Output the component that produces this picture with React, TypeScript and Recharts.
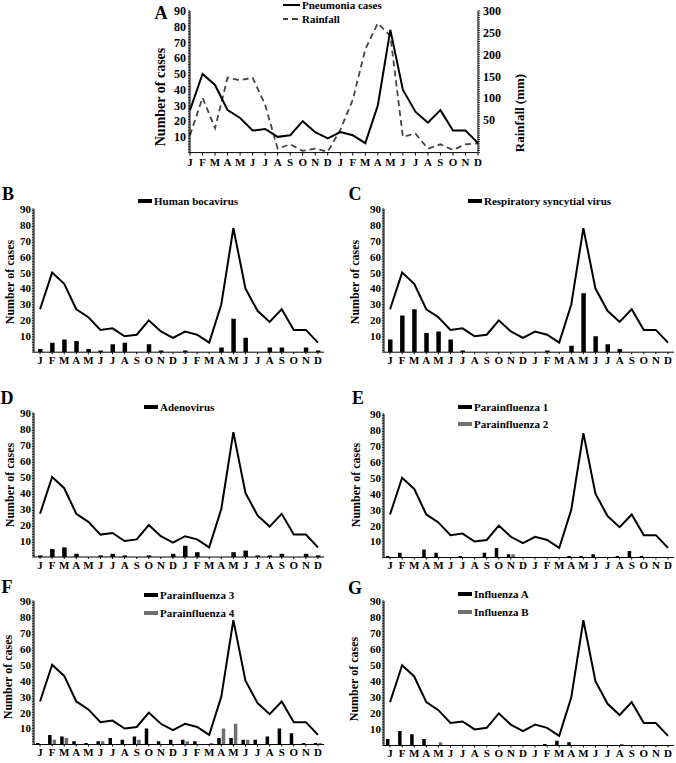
import React from 'react';
import { ComposedChart, Line, Bar, XAxis, YAxis } from 'recharts';

const months = ['J','F','M','A','M','J','J','A','S','O','N','D','J','F','M','A','M','J','J','A','S','O','N','D'];
const pneumoniaCases = [27,50,43,27,22,14,15,10,11,20,13,9,13,11,6,30,78,40,26,19,27,14,14,6];
const rainfall = [15,101,31,147,141,147,85,-16,-6,-21,-16,-23,27,96,212,272,243,11,19,-16,-6,-19,-6,-4];
const humanBocavirus = [2,6,8,7,2,1,5,6,0,5,1,0,1,0,0,3,21,9,0,3,3,0,3,1];
const respiratorySyncytial = [8,23,27,12,13,8,1,0,0,0,0,0,0,1,0,4,37,10,5,2,0,0,0,0];
const adenovirus = [1,5,6,2,0,1,2,1,0,1,0,2,7,3,0,0,3,4,1,1,2,0,2,1];
const parainfluenza1 = [1,3,0,5,3,0,1,0,3,6,2,0,0,0,0,1,1,2,0,1,4,1,0,0];
const parainfluenza2 = [0,0,0,0,0,0,0,0,0,0,2,0,0,0,0,0,0,0,0,0,0,0,0,0];
const parainfluenza3 = [1,6,5,2,1,2,4,3,5,10,2,3,3,2,0,4,4,3,3,5,10,7,1,1];
const parainfluenza4 = [0,3,4,0,0,2,0,0,3,0,0,0,2,0,1,10,13,3,0,0,0,0,0,1];
const influenzaA = [4,9,7,4,0,0,0,0,0,0,0,0,0,1,3,2,0,0,0,0,0,0,0,0];
const influenzaB = [0,0,0,0,2,0,0,0,0,0,0,0,0,0,0,0,0,0,0,1,0,0,0,0];

const caseTickLabels = [10,20,30,40,50,60,70,80,90];
const rainTickLabels = [50,100,150,200,250,300];
const caseDomain: [number, number] = [0, 90];
const rainDomain: [number, number] = [-25, 300];

const caseTicks = Array.from({ length: 91 }, (_, i) => i);
const rainTicks = Array.from({ length: 66 }, (_, i) => -25 + i * 5);

const FONT = "'Liberation Serif', 'DejaVu Serif', serif";
const BLACK = '#000000';
const GRAY = '#6f6f6f';

const tickStyle = (size: number) => ({ fontFamily: FONT, fontWeight: 'bold', fontSize: size, fill: '#000' });

type BarSpec = { key: string; values: number[]; color: string; name: string };

function buildData(bars: BarSpec[]) {
  return months.map((m, i) => {
    const row: any = { month: m, pneumonia: pneumoniaCases[i] };
    bars.forEach((b) => { row[b.key] = b.values[i]; });
    return row;
  });
}

function Panel({ left, right, top, bottom, bars }: { left: number; right: number; top: number; bottom: number; bars: BarSpec[] }) {
  const yW = 40, xH = 22, mt = 8, mr = 4;
  const width = right - left + yW + mr;
  const height = bottom - top + mt + xH;
  const data = buildData(bars);
  const barSize = bars.length > 1 ? 3.5 : 4.5;
  return (
    <div style={{ position: 'absolute', left: left - yW, top: top - mt }}>
      <ComposedChart width={width} height={height} data={data} margin={{ top: mt, right: mr, bottom: 0, left: 0 }} barGap={1}>
        <XAxis dataKey="month" interval={0} tick={tickStyle(11)} tickSize={2} tickMargin={2} height={xH}
          axisLine={{ stroke: '#000', strokeWidth: 1 }} tickLine={{ stroke: '#000' }} />
        <YAxis domain={caseDomain} ticks={caseTicks} interval={0} width={yW} tick={tickStyle(11)} tickSize={2} tickMargin={1}
          tickFormatter={(v: number) => (caseTickLabels.includes(v) ? String(v) : '')}
          axisLine={{ stroke: '#000', strokeWidth: 1 }} tickLine={{ stroke: '#000', strokeWidth: 0.8 }} allowDataOverflow />
        {bars.map((b) => (
          <Bar key={b.key} dataKey={b.key} name={b.name} fill={b.color} barSize={barSize} isAnimationActive={false} />
        ))}
        <Line dataKey="pneumonia" type="linear" stroke="#000" strokeWidth={2} dot={false} isAnimationActive={false} />
      </ComposedChart>
    </div>
  );
}

function Txt({ x, y, size, children, rotate, anchor }: { x: number; y: number; size: number; children: React.ReactNode; rotate?: boolean; anchor?: 'left' | 'center' }) {
  const t = anchor === 'left' ? 'translate(0,-50%)' : rotate ? 'translate(-50%,-50%) rotate(-90deg)' : 'translate(-50%,-50%)';
  return (
    <div style={{ position: 'absolute', left: x, top: y, transform: t, fontFamily: FONT, fontWeight: 'bold', fontSize: size, lineHeight: 1, whiteSpace: 'nowrap', color: '#000' }}>
      {children}
    </div>
  );
}

function Legend({ x, y, items }: { x: number; y: number; items: { label: string; color: string }[] }) {
  return (
    <>
      {items.map((it, i) => (
        <React.Fragment key={it.label}>
          <div style={{ position: 'absolute', left: x, top: y + i * 17.5 - 2, width: 14, height: 4, background: it.color }} />
          <Txt x={x + 16} y={y + i * 17.5} size={11} anchor="left">{it.label}</Txt>
        </React.Fragment>
      ))}
    </>
  );
}

function PanelA() {
  const data = months.map((m, i) => ({ month: m, pneumonia: pneumoniaCases[i], rainfall: rainfall[i] }));
  const yW = 40, mt = 6, xH = 22;
  const left = 190, right = 478, top = 11, bottom = 152.6;
  return (
    <div style={{ position: 'absolute', left: left - yW, top: top - mt }}>
      <ComposedChart width={right - left + 2 * yW} height={bottom - top + mt + xH} data={data} margin={{ top: mt, right: 0, bottom: 0, left: 0 }}>
        <XAxis dataKey="month" interval={0} tick={tickStyle(11)} tickSize={3} tickMargin={3} height={xH}
          axisLine={{ stroke: '#000' }} tickLine={{ stroke: '#000' }} />
        <YAxis yAxisId="left" domain={caseDomain} ticks={caseTicks} interval={0} width={yW} tick={tickStyle(12)} tickSize={2} tickMargin={2}
          tickFormatter={(v: number) => (caseTickLabels.includes(v) ? String(v) : '')}
          axisLine={{ stroke: '#000' }} tickLine={{ stroke: '#000', strokeWidth: 0.8 }} />
        <YAxis yAxisId="right" orientation="right" domain={rainDomain} ticks={rainTicks} interval={0} width={yW} tick={tickStyle(12)} tickSize={2} tickMargin={3}
          tickFormatter={(v: number) => (rainTickLabels.includes(v) ? String(v) : '')}
          axisLine={{ stroke: '#000' }} tickLine={{ stroke: '#000', strokeWidth: 0.8 }} allowDataOverflow />
        <Line yAxisId="right" dataKey="rainfall" name="Rainfall" type="linear" stroke="#444" strokeWidth={1.8} strokeDasharray="6 4" dot={false} isAnimationActive={false} />
        <Line yAxisId="left" dataKey="pneumonia" name="Pneumonia cases" type="linear" stroke="#000" strokeWidth={2} dot={false} isAnimationActive={false} />
      </ComposedChart>
    </div>
  );
}

export default function App() {
  return (
    <div style={{ position: 'absolute', left: 0, top: 0, width: 676, height: 763, background: '#fff', overflow: 'hidden' }}>
      <PanelA />
      <Panel left={34} right={324} top={209.3} bottom={352.5} bars={[{ key: 'hbov', values: humanBocavirus, color: BLACK, name: 'Human bocavirus' }]} />
      <Panel left={384} right={674} top={209.3} bottom={352.5} bars={[{ key: 'rsv', values: respiratorySyncytial, color: BLACK, name: 'Respiratory syncytial virus' }]} />
      <Panel left={34} right={324} top={412.7} bottom={556.7} bars={[{ key: 'adv', values: adenovirus, color: BLACK, name: 'Adenovirus' }]} />
      <Panel left={384} right={674} top={413.5} bottom={557} bars={[
        { key: 'p1', values: parainfluenza1, color: BLACK, name: 'Parainfluenza 1' },
        { key: 'p2', values: parainfluenza2, color: GRAY, name: 'Parainfluenza 2' }]} />
      <Panel left={34} right={324} top={601} bottom={744.5} bars={[
        { key: 'p3', values: parainfluenza3, color: BLACK, name: 'Parainfluenza 3' },
        { key: 'p4', values: parainfluenza4, color: GRAY, name: 'Parainfluenza 4' }]} />
      <Panel left={384} right={674} top={600.5} bottom={745} bars={[
        { key: 'fa', values: influenzaA, color: BLACK, name: 'Influenza A' },
        { key: 'fb', values: influenzaB, color: GRAY, name: 'Influenza B' }]} />

      {/* Panel A texts */}
      <Txt x={161} y={13} size={18}>A</Txt>
      <Txt x={161} y={97} size={14} rotate>Number of cases</Txt>
      <Txt x={519} y={113} size={13} rotate>Rainfall (mm)</Txt>
      <div style={{ position: 'absolute', left: 283, top: 4, width: 17, height: 2, background: '#000' }} />
      <Txt x={302} y={5} size={11} anchor="left">Pneumonia cases</Txt>
      <div style={{ position: 'absolute', left: 283, top: 18, width: 5, height: 2, background: '#444' }} />
      <div style={{ position: 'absolute', left: 292, top: 18, width: 6, height: 2, background: '#444' }} />
      <Txt x={302} y={19} size={11} anchor="left">Rainfall</Txt>

      {/* Panel letters */}
      <Txt x={8} y={194} size={18}>B</Txt>
      <Txt x={355} y={194} size={18}>C</Txt>
      <Txt x={7} y={398} size={18}>D</Txt>
      <Txt x={358} y={398} size={18}>E</Txt>
      <Txt x={7} y={587} size={18}>F</Txt>
      <Txt x={355} y={588} size={18}>G</Txt>

      {/* Axis titles */}
      <Txt x={10} y={282} size={12} rotate>Number of cases</Txt>
      <Txt x={355} y={282} size={12} rotate>Number of cases</Txt>
      <Txt x={10} y={485} size={12} rotate>Number of cases</Txt>
      <Txt x={356} y={485} size={12} rotate>Number of cases</Txt>
      <Txt x={8} y={677} size={12} rotate>Number of cases</Txt>
      <Txt x={354} y={679} size={12} rotate>Number of cases</Txt>

      {/* Legends */}
      <Legend x={138} y={201} items={[{ label: 'Human bocavirus', color: BLACK }]} />
      <Legend x={468} y={201} items={[{ label: 'Respiratory syncytial virus', color: BLACK }]} />
      <Legend x={144} y={406.7} items={[{ label: 'Adenovirus', color: BLACK }]} />
      <Legend x={458} y={406.7} items={[{ label: 'Parainfluenza 1', color: BLACK }, { label: 'Parainfluenza 2', color: GRAY }]} />
      <Legend x={144} y={595} items={[{ label: 'Parainfluenza 3', color: BLACK }, { label: 'Parainfluenza 4', color: GRAY }]} />
      <Legend x={458} y={594} items={[{ label: 'Influenza A', color: BLACK }, { label: 'Influenza B', color: GRAY }]} />
    </div>
  );
}
